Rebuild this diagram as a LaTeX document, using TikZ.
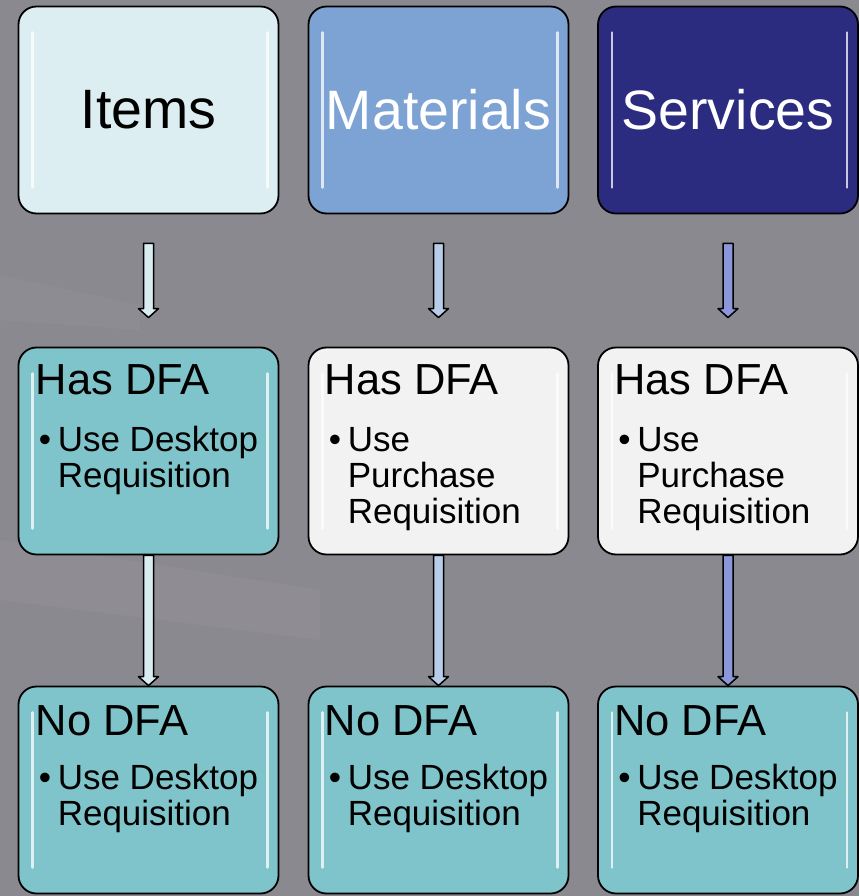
\documentclass[tikz,border=0pt]{standalone}
\usepackage{fontspec}
\setmainfont{Liberation Sans}
\usetikzlibrary{calc}
\usetikzlibrary{positioning}

\definecolor{bgC}{HTML}{8B8990}
\definecolor{itemsC}{HTML}{DCEEF1}
\definecolor{matC}{HTML}{7DA2D4}
\definecolor{servC}{HTML}{2B2B80}
\definecolor{tealC}{HTML}{7FC4CA}
\definecolor{paleC}{HTML}{F2F2F2}
\definecolor{arrI}{HTML}{D9EDF1}
\definecolor{arrM}{HTML}{B7CDEA}
\definecolor{arrS}{HTML}{8C96DA}

\begin{document}
\begin{tikzpicture}[x=1pt, y=-1pt,
  gloss/.style={path picture={
    \draw[white, opacity=0.75, line width=2.6pt, line cap=round]
      ($(path picture bounding box.north west)+(14,26)$) -- ($(path picture bounding box.south west)+(14,-26)$)
      ($(path picture bounding box.north east)+(-11,26)$) -- ($(path picture bounding box.south east)+(-11,-26)$);}},
  box/.style={draw=black, line width=1.8pt, rounded corners=18pt, minimum width=260pt,
    minimum height=207pt, inner sep=0pt, fill=#1, gloss},
  title/.style={font=\fontsize{55.5}{60}\selectfont},
  head/.style={anchor=base west, inner sep=0pt, font=\fontsize{43.5}{48}\selectfont},
  list/.style={anchor=base west, inner sep=0pt, font=\fontsize{35}{36}\selectfont},
  tube/.style={fill=#1, draw=black, line width=1.5pt, line join=round,
    to path={let \p1=(\tikztostart), \p2=(\tikztotarget) in
      (\x1-5pt,\y1) -- (\x1-5pt,\y2+9pt) -- (\x1-10pt,\y2+9pt) -- (\x1,\y2)
      -- (\x1+10pt,\y2+9pt) -- (\x1+5pt,\y2+9pt) -- (\x1+5pt,\y1) -- cycle}}]

\useasboundingbox (0,0) rectangle (859,896);
\fill [bgC] (0,0) rectangle (859,896);
\fill [white, opacity=0.03] (0,275) -- (140,305) -- (140,330) -- (0,320) -- cycle;
\fill [white, opacity=0.035] (0,540) -- (320,590) -- (320,640) -- (0,600) -- cycle;

% top row
\node [box=itemsC, title] (items) at (148.5,110) {Items};
\node [box=matC, title, text=white] (mats) at (438.5,110) {Materials};
\node [box=servC, title, text=white] (servs) at (728,110) {Services};

% has DFA row
\node [box=tealC] (hasI) at (148.5,451) {};
\node [box=paleC] (hasM) at (438.5,451) {};
\node [box=paleC] (hasS) at (728,451) {};

% no DFA row
\node [box=tealC] (noI) at (148.5,790) {};
\node [box=tealC] (noM) at (438.5,790) {};
\node [box=tealC] (noS) at (728,790) {};

% texts in the boxes
\node [head] (hasI-h) at ($(hasI.north west)+(18,48)$) {Has DFA};
\node [list] (hasI-l) at ($(hasI.north west)+(21,105)$)
  {\begin{tabular}[t]{@{}l@{}l@{}}\makebox[19pt][l]{\textbullet} & Use Desktop\\ & Requisition\end{tabular}};
\node [head] (hasM-h) at ($(hasM.north west)+(17,48)$) {Has DFA};
\node [list] (hasM-l) at ($(hasM.north west)+(21,105)$)
  {\begin{tabular}[t]{@{}l@{}l@{}}\makebox[19pt][l]{\textbullet} & Use\\ & Purchase\\ & Requisition\end{tabular}};
\node [head] (hasS-h) at ($(hasS.north west)+(17,48)$) {Has DFA};
\node [list] (hasS-l) at ($(hasS.north west)+(21,105)$)
  {\begin{tabular}[t]{@{}l@{}l@{}}\makebox[19pt][l]{\textbullet} & Use\\ & Purchase\\ & Requisition\end{tabular}};

\node [head] (noI-h) at ($(noI.north west)+(18,50)$) {No DFA};
\node [list] (noI-l) at ($(noI.north west)+(21,104)$)
  {\begin{tabular}[t]{@{}l@{}l@{}}\makebox[19pt][l]{\textbullet} & Use Desktop\\ & Requisition\end{tabular}};
\node [head] (noM-h) at ($(noM.north west)+(17,50)$) {No DFA};
\node [list] (noM-l) at ($(noM.north west)+(21,104)$)
  {\begin{tabular}[t]{@{}l@{}l@{}}\makebox[19pt][l]{\textbullet} & Use Desktop\\ & Requisition\end{tabular}};
\node [head] (noS-h) at ($(noS.north west)+(17,50)$) {No DFA};
\node [list] (noS-l) at ($(noS.north west)+(21,104)$)
  {\begin{tabular}[t]{@{}l@{}l@{}}\makebox[19pt][l]{\textbullet} & Use Desktop\\ & Requisition\end{tabular}};

% arrows
\draw [tube=arrI] ($(items.south)+(0,29)$) to ($(hasI.north)+(0,-29)$);
\draw [tube=arrM] ($(mats.south)+(0,29)$) to ($(hasM.north)+(0,-29)$);
\draw [tube=arrS] ($(servs.south)+(0,29)$) to ($(hasS.north)+(0,-29)$);
\draw [tube=arrI] (hasI.south) to (noI.north);
\draw [tube=arrM] (hasM.south) to (noM.north);
\draw [tube=arrS] (hasS.south) to (noS.north);

\end{tikzpicture}
\end{document}
